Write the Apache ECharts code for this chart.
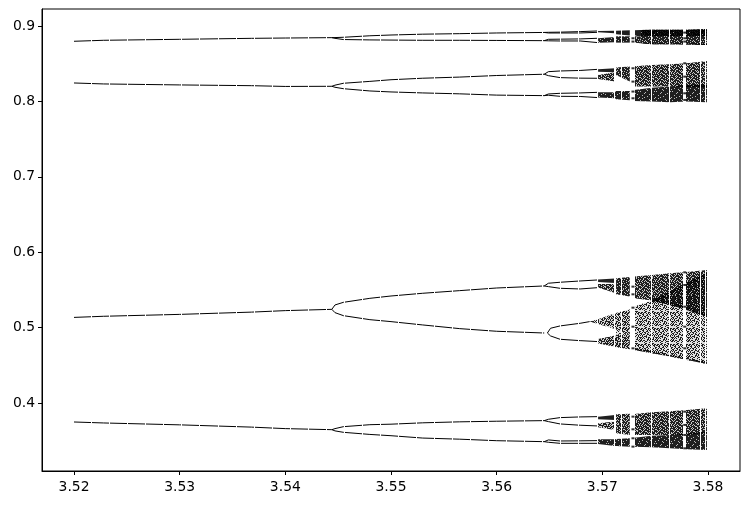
<!DOCTYPE html>
<html><head><meta charset="utf-8">
<style>html,body{margin:0;padding:0;background:#fff}#c{width:749px;height:505px}</style>
<script src="https://cdn.jsdelivr.net/npm/echarts@6/dist/echarts.min.js"></script>
</head><body><div id="c"></div>
<script>
const xTicks = [3.52, 3.53, 3.54, 3.55, 3.56, 3.57, 3.58];
const yTicks = [0.4, 0.5, 0.6, 0.7, 0.8, 0.9];

// Single-line branches
const rStem = [3.52, 3.5228, 3.53, 3.5368, 3.54, 3.5444];
const stemTop = [0.8797, 0.8810, 0.8823, 0.8836, 0.8840, 0.8845];
const stemSecond = [0.8244, 0.8231, 0.8218, 0.8208, 0.8198, 0.8200];
const stemMiddle = [0.5135, 0.5150, 0.5175, 0.5205, 0.5225, 0.5242];
const stemBottom = [0.3748, 0.3735, 0.3710, 0.3680, 0.3660, 0.3646];

const rFork = [3.5444, 3.5447, 3.5455, 3.5480, 3.5500, 3.5530, 3.5565, 3.5600, 3.5645];
const forkTopHi = [0.8845, 0.8846, 0.8850, 0.8870, 0.8880, 0.8891, 0.8898, 0.8907, 0.8914];
const forkTopLo = [0.8845, 0.8836, 0.8820, 0.8815, 0.8813, 0.8810, 0.8810, 0.8808, 0.8805];
const forkSecondHi = [0.8200, 0.8215, 0.8240, 0.8265, 0.8287, 0.8307, 0.8322, 0.8343, 0.8360];
const forkSecondLo = [0.8200, 0.8187, 0.8168, 0.8138, 0.8125, 0.8112, 0.8100, 0.8083, 0.8076];
const forkMiddleHi = [0.5242, 0.5300, 0.5335, 0.5388, 0.5419, 0.5455, 0.5490, 0.5525, 0.5552];
const forkMiddleLo = [0.5242, 0.5198, 0.5158, 0.5105, 0.5079, 0.5035, 0.4986, 0.4951, 0.4928];
const forkBottomHi = [0.3646, 0.3660, 0.3686, 0.3712, 0.3719, 0.3737, 0.3750, 0.3758, 0.3766];
const forkBottomLo = [0.3646, 0.3630, 0.3611, 0.3583, 0.3566, 0.3535, 0.3520, 0.3500, 0.3487];

const rSub = [3.5645, 3.5649, 3.5660, 3.5679, 3.5696];
const subTop1 = [0.8914, 0.8916, 0.8918, 0.8925, 0.8934];
const subTop2 = [0.8914, 0.8907, 0.8907, 0.8907, 0.8916];
const subTop3 = [0.8805, 0.8823, 0.8825, 0.8828, 0.8837];
const subTop4 = [0.8805, 0.8803, 0.8801, 0.8801, 0.8779];
const subSecond1 = [0.8360, 0.8394, 0.8403, 0.8410, 0.8425];
const subSecond2 = [0.8360, 0.8341, 0.8315, 0.8308, 0.8306];
const subSecond3 = [0.8076, 0.8098, 0.8107, 0.8112, 0.8120];
const subSecond4 = [0.8076, 0.8081, 0.8067, 0.8065, 0.8050];
const subMiddle1 = [0.5552, 0.5588, 0.5601, 0.5618, 0.5632];
const subMiddle2 = [0.5552, 0.5543, 0.5521, 0.5512, 0.5530];
const subBottom1 = [0.3766, 0.3784, 0.3806, 0.3815, 0.3819];
const subBottom2 = [0.3766, 0.3753, 0.3722, 0.3705, 0.3695];
const subBottom3 = [0.3487, 0.3510, 0.3496, 0.3498, 0.3501];
const subBottom4 = [0.3487, 0.3479, 0.3465, 0.3465, 0.3465];

const rLowFork = [3.5648, 3.5651, 3.5660, 3.5679, 3.5688];
const lowForkHi = [0.4928, 0.4991, 0.5022, 0.5057, 0.5079];
const rLowFork2 = [3.5648, 3.5651, 3.5660, 3.5679, 3.5696];
const lowForkLo = [0.4928, 0.4889, 0.4845, 0.4827, 0.4814];

// Chaotic bands: envelopes
const rA = [3.5696, 3.5712];
const rB = [3.5713, 3.5726];
const rC = [3.5696, 3.5712, 3.5713, 3.5726];
const rLate = [3.5730, 3.5747, 3.5764, 3.5780, 3.5799];
const rTopLate = [3.5736, 3.5747, 3.5764, 3.5780, 3.5799];
const rTopBridge = [3.5730, 3.5736];
const rCrease = [3.5747, 3.5764, 3.5780, 3.5799];
const rB1 = [3.5688, 3.5696, 3.5712, 3.5713, 3.5726];

const t1hT = [0.8934, 0.8938], t1hB = [0.8916, 0.8903];
const t1lT = [0.8837, 0.8854], t1lB = [0.8779, 0.8783];
const t2hT = [0.8938, 0.8943], t2hB = [0.8890, 0.8872];
const t2lT = [0.8863, 0.8863], t2lB = [0.8779, 0.8779];
const t3hT = [0.8943, 0.8947], t3hB = [0.8881, 0.8854];
const t3lT = [0.8867, 0.8854], t3lB = [0.8779, 0.8770];
const tAllT = [0.8947, 0.8951, 0.8951, 0.8951, 0.8960], tAllB = [0.8770, 0.8757, 0.8757, 0.8753, 0.8748];
const tBarB = [0.8870, 0.8868, 0.8866, 0.8866, 0.8866];
const tStripT = [0.8776, 0.8770, 0.8768, 0.8766, 0.8764];

const s1hT = [0.8425, 0.8439], s1hB = [0.8394, 0.8386];
const s1gT = [0.8350, 0.8386], s1gB = [0.8297, 0.8262];
const s2T = [0.8448, 0.8461], s2B = [0.8350, 0.8262];
const s3T = [0.8465, 0.8483, 0.8492, 0.8505, 0.8536], s3B = [0.8196, 0.8196, 0.8196, 0.8190, 0.8182];
const s4T = [0.8120, 0.8120, 0.8138, 0.8138], s4B = [0.8050, 0.8040, 0.8028, 0.8015];
const s5T = [0.8151, 0.8182, 0.8196, 0.8218, 0.8226], s5B = [0.8005, 0.7997, 0.7988, 0.7997, 0.7988];

const m1hT = [0.5636, 0.5650], m1hB = [0.5605, 0.5590];
const m1gT = [0.5579, 0.5579], m1gB = [0.5530, 0.5460];
const m2T = [0.5654, 0.5672], m2B = [0.5442, 0.5411];
const mAT = [0.5676, 0.5698, 0.5720, 0.5738, 0.5764], mAB = [0.5389, 0.5358, 0.5300, 0.5234, 0.5145];
const mB1T = [0.5079, 0.5110, 0.5190, 0.5195, 0.5243], mB1B = [0.5079, 0.5048, 0.4980, 0.4980, 0.4902];
const mB2T = [0.4850, 0.4895, 0.4905, 0.4902], mB2B = [0.4790, 0.4745, 0.4739, 0.4712];
const mBT = [0.5278, 0.5358, 0.5477, 0.5596, 0.5729], mBB = [0.4703, 0.4659, 0.4615, 0.4571, 0.4518];
const mBridgeT = [0.4980, 0.4902], mBridgeB = [0.4905, 0.4902];
const creaseAT = [0.5398, 0.5340, 0.5274, 0.5185], creaseAB = [0.5358, 0.5300, 0.5234, 0.5145];
const creaseBT = [0.5358, 0.5477, 0.5596, 0.5729], creaseBB = [0.5318, 0.5437, 0.5556, 0.5689];
const edgeBT = [0.4733, 0.4689, 0.4645, 0.4601, 0.4548];

const b1hT = [0.3819, 0.3841], b1hB = [0.3784, 0.3775];
const b1gT = [0.3731, 0.3753], b1gB = [0.3678, 0.3642];
const b2T = [0.3850, 0.3858], b2B = [0.3598, 0.3576];
const b3T = [0.3854, 0.3877, 0.3890, 0.3908, 0.3930], b3B = [0.3576, 0.3576, 0.3576, 0.3576, 0.3598];
const b4T = [0.3518, 0.3518, 0.3523, 0.3532], b4B = [0.3457, 0.3430, 0.3430, 0.3421];
const b5T = [0.3540, 0.3567, 0.3576, 0.3598, 0.3620], b5B = [0.3421, 0.3412, 0.3399, 0.3386, 0.3377];

// Dark points left inside the two wide windows
const windowR = [3.5729, 3.5778];
const window1Vals = [0.8837, 0.8793, 0.8439, 0.8262, 0.8130, 0.8041, 0.5543, 0.5441, 0.5264, 0.5012, 0.4725, 0.3819, 0.3651, 0.3532, 0.3421];
const window2Vals = [0.8912, 0.8837, 0.8793, 0.8505, 0.8328, 0.8107, 0.8019, 0.5733, 0.5565, 0.5277, 0.5012, 0.4725, 0.3885, 0.3709, 0.3576, 0.3399];

// White windows crossing the diagram
const gapStart = [3.52163, 3.52333, 3.52504, 3.52675, 3.52846, 3.53017, 3.53187, 3.53358, 3.53529, 3.53700,
  3.53871, 3.54041, 3.54212, 3.54383, 3.54554, 3.54725, 3.54896, 3.55066, 3.55237, 3.55408, 3.55579, 3.55750,
  3.55920, 3.56091, 3.56262, 3.56433, 3.56604, 3.56774, 3.56945, 3.57115, 3.57177, 3.57268, 3.57461, 3.57628,
  3.57766, 3.57924, 3.57972];
const gapEnd = [3.52173, 3.52343, 3.52514, 3.52685, 3.52856, 3.53027, 3.53197, 3.53368, 3.53539, 3.53710,
  3.53881, 3.54051, 3.54222, 3.54393, 3.54564, 3.54735, 3.54906, 3.55076, 3.55247, 3.55418, 3.55589, 3.55760,
  3.55930, 3.56101, 3.56272, 3.56443, 3.56614, 3.56784, 3.56955, 3.57125, 3.57187, 3.57303, 3.57473, 3.57640,
  3.57798, 3.57936, 3.57984];

// Speckle tile for the band fill; a digit below the band's level paints a dot
const speckle = [
 "3816052947136028","7204961385720419","1593827046158392","6048213759604827",
 "9271564083917350","4830796125248671","2569140738069413","8017325694731586",
 "5392680147952037","0746819352416829","3185042976083154","9624731508267490",
 "1408596237140765","7352960814693208","2867403159528941","6091278345071736"];

const lines = [
  [rStem, stemTop], [rStem, stemSecond], [rStem, stemMiddle], [rStem, stemBottom],
  [rFork, forkTopHi], [rFork, forkTopLo], [rFork, forkSecondHi], [rFork, forkSecondLo],
  [rFork, forkMiddleHi], [rFork, forkMiddleLo], [rFork, forkBottomHi], [rFork, forkBottomLo],
  [rSub, subTop1], [rSub, subTop2], [rSub, subTop3], [rSub, subTop4],
  [rSub, subSecond1], [rSub, subSecond2], [rSub, subSecond3], [rSub, subSecond4],
  [rSub, subMiddle1], [rSub, subMiddle2],
  [rSub, subBottom1], [rSub, subBottom2], [rSub, subBottom3], [rSub, subBottom4],
  [rLowFork, lowForkHi], [rLowFork2, lowForkLo]
];
// [r, top, bottom, dot level 0-10, tile variant]
const bands = [
  [rA, t1hT, t1hB, 10, 0], [rA, t1lT, t1lB, 9, 0], [rB, t2hT, t2hB, 10, 0], [rB, t2lT, t2lB, 9, 0],
  [rTopBridge, t3hT, t3hB, 10, 0], [rTopBridge, t3lT, t3lB, 8, 0],
  [rTopLate, tAllT, tAllB, 8, 0], [rTopLate, tAllT, tBarB, 9, 1], [rTopLate, tStripT, tAllB, 8, 1],
  [rA, s1hT, s1hB, 10, 0], [rA, s1gT, s1gB, 7, 0], [rB, s2T, s2B, 8, 0], [rLate, s3T, s3B, 7, 0],
  [rC, s4T, s4B, 9, 0], [rLate, s5T, s5B, 9, 0],
  [rA, m1hT, m1hB, 10, 0], [rA, m1gT, m1gB, 7, 0], [rB, m2T, m2B, 8, 0], [rLate, mAT, mAB, 7, 0],
  [rB1, mB1T, mB1B, 5, 1], [rC, mB2T, mB2B, 6, 1], [rB, mBridgeT, mBridgeB, 3, 1], [rLate, mBT, mBB, 4, 1],
  [rCrease, creaseAT, creaseAB, 6, 1], [rCrease, creaseBT, creaseBB, 5, 0], [rLate, edgeBT, mBB, 5, 0],
  [rA, b1hT, b1hB, 10, 0], [rA, b1gT, b1gB, 6, 0], [rB, b2T, b2B, 7, 0], [rLate, b3T, b3B, 7, 0],
  [rC, b4T, b4B, 9, 0], [rLate, b5T, b5B, 9, 0]
];

const tiles = {};
function tile(level, variant) {
  const key = level + '_' + variant;
  if (tiles[key]) return tiles[key];
  const c = document.createElement('canvas');
  c.width = c.height = 16;
  const g = c.getContext('2d');
  for (let y = 0; y < 16; y++) for (let x = 0; x < 16; x++) {
    const d = (variant ? speckle[x].charCodeAt(15 - y) : speckle[y].charCodeAt(x)) - 48;
    g.fillStyle = d < level ? 'rgba(0,0,0,0.88)' : 'rgba(0,0,0,' + (0.03 * level) + ')';
    g.fillRect(x, y, 1, 1);
  }
  return tiles[key] = c;
}

const chart = echarts.init(document.getElementById('c'), null, {renderer: 'canvas'});
const font = {fontFamily: 'DejaVu Sans', fontSize: 13.9, color: '#000'};
const series = lines.map(([r, y]) => ({
  type: 'line', data: r.map((v, i) => [v, y[i]]), showSymbol: false, silent: true, z: 3,
  lineStyle: {color: '#000', width: 1}, animation: false
}));
series.push({
  type: 'custom', coordinateSystem: 'cartesian2d', silent: true, z: 2, animation: false,
  data: bands.map((b, i) => [b[0][0], b[1][0], i]),
  renderItem: (params, api) => {
    const [r, top, bot, level, variant] = bands[api.value(2)];
    const pts = r.map((v, i) => api.coord([v, top[i]]))
      .concat(r.map((v, i) => api.coord([v, bot[i]])).reverse());
    return {type: 'polygon', shape: {points: pts}, style: {fill: {image: tile(level, variant), repeat: 'repeat'}}};
  }
});
series.push({
  type: 'custom', coordinateSystem: 'cartesian2d', silent: true, z: 4, animation: false,
  data: gapStart.map((s, i) => [s, gapEnd[i]]),
  renderItem: (params, api) => {
    const a = api.coord([api.value(0), 0.90]);
    const b = api.coord([api.value(1), 0.33]);
    const x = Math.round(a[0]);
    return {type: 'rect', shape: {x, y: a[1], width: Math.max(1, Math.round(b[0] - a[0])), height: b[1] - a[1]}, style: {fill: '#fff'}};
  }
});
series.push({
  type: 'scatter', silent: true, z: 5, animation: false, symbol: 'rect', symbolSize: [3, 2],
  itemStyle: {color: '#000'},
  data: window1Vals.map(v => [windowR[0], v]).concat(window2Vals.map(v => [windowR[1], v]))
});
chart.setOption({
  animation: false, backgroundColor: '#fff',
  grid: {left: 42, right: 9, top: 9, bottom: 34, show: true, borderColor: '#000', borderWidth: 1, backgroundColor: 'transparent'},
  xAxis: {
    type: 'value', min: 3.51697, max: 3.58303, splitLine: {show: false},
    axisLine: {show: true, onZero: false, lineStyle: {color: '#000', width: 1}},
    axisTick: {show: true, length: 4, customValues: xTicks, lineStyle: {color: '#000', width: 1}},
    axisLabel: {show: true, margin: 9, customValues: xTicks, formatter: v => v.toFixed(2), ...font}
  },
  yAxis: {
    type: 'value', min: 0.3098, max: 0.9225, splitLine: {show: false},
    axisLine: {show: true, onZero: false, lineStyle: {color: '#000', width: 1}},
    axisTick: {show: true, length: 4, customValues: yTicks, lineStyle: {color: '#000', width: 1}},
    axisLabel: {show: true, margin: 7, customValues: yTicks, formatter: v => v.toFixed(1), ...font}
  },
  series
});
</script></body></html>
